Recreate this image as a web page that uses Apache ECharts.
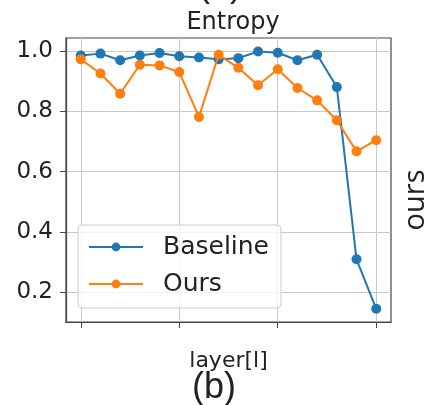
<!DOCTYPE html>
<html>
<head>
<meta charset="utf-8">
<script src="https://cdn.jsdelivr.net/npm/echarts@6/dist/echarts.min.js"></script>
<style>html,body{margin:0;padding:0;background:#fff;}#c{width:428px;height:405px;}</style>
</head>
<body>
<div id="c"></div>
<script>
var layers = [0,1,2,3,4,5,6,7,8,9,10,11,12,13,14,15];
var baseline = [0.985,0.991,0.969,0.985,0.993,0.982,0.978,0.972,0.976,0.998,0.994,0.969,0.987,0.880,0.309,0.145];
var ours = [0.972,0.925,0.858,0.954,0.952,0.930,0.781,0.987,0.944,0.886,0.939,0.877,0.836,0.770,0.667,0.704];
var xTicks = [0,5,10,15];
var yTicks = [0.2,0.4,0.6,0.8,1.0];

var chart = echarts.init(document.getElementById('c'), null, {renderer:'canvas'});
var font = 'DejaVu Sans';
function pairs(arr){ return layers.map(function(l,i){ return [l, arr[i]]; }); }
chart.setOption({
  animation:false,
  backgroundColor:'#fff',
  title:{text:'Entropy', left:228, textAlign:'center', top:6,
    textStyle:{fontFamily:font, fontSize:24, fontWeight:'normal', color:'#222'}},
  grid:{left:66, right:37, top:38, bottom:83, show:true, borderColor:'#444', borderWidth:1.2, backgroundColor:'transparent'},
  legend:{orient:'vertical', left:78, top:225, padding:[8,12,10,10], itemGap:9,
    itemWidth:54, itemHeight:11,
    backgroundColor:'rgba(255,255,255,0.8)', borderColor:'#ccc', borderWidth:1, borderRadius:4,
    textStyle:{fontFamily:font, fontSize:25, color:'#222', lineHeight:28, padding:[0,0,0,15]},
    data:['Baseline','Ours']},
  xAxis:{type:'value', min:-0.75, max:15.75,
    name:'layer[l]', nameLocation:'middle', nameGap:28,
    nameTextStyle:{fontFamily:font, fontSize:22, color:'#222'},
    axisLine:{show:true, onZero:false, lineStyle:{color:'#444', width:1.2}},
    axisTick:{show:true, length:6, inside:false, lineStyle:{color:'#444'}, customValues:xTicks},
    axisLabel:{show:false, customValues:xTicks},
    splitLine:{show:true, lineStyle:{color:'#c8c8c8', width:1}}},
  yAxis:{type:'value', min:0.1012, max:1.0428,
    axisLine:{show:true, onZero:false, lineStyle:{color:'#444', width:1.2}},
    axisTick:{show:true, length:6, inside:false, lineStyle:{color:'#444'}, customValues:yTicks},
    axisLabel:{show:true, margin:13, customValues:yTicks, fontFamily:font, fontSize:23, color:'#222',
      formatter:function(v){ return v.toFixed(1); }},
    splitLine:{show:true, lineStyle:{color:'#c8c8c8', width:1}}},
  series:[
    {name:'Baseline', type:'line', data:pairs(baseline), symbol:'circle', symbolSize:10,
      lineStyle:{color:'#1f77b4', width:2}, itemStyle:{color:'#1f77b4'}, z:2},
    {name:'Ours', type:'line', data:pairs(ours), symbol:'circle', symbolSize:10,
      lineStyle:{color:'#ff7f0e', width:2}, itemStyle:{color:'#ff7f0e'}, z:3}
  ],
  graphic:[
    {type:'text', x:220, y:-14, style:{text:'(a)', fontFamily:'Liberation Sans', fontSize:36, fill:'#222', align:'center', verticalAlign:'middle'}},
    {type:'text', x:214, y:388, style:{text:'(b)', fontFamily:'Liberation Sans', fontSize:36, fill:'#222', align:'center', verticalAlign:'middle'}},
    {type:'text', x:416, y:200, rotation:Math.PI/2, style:{text:'ours', fontFamily:'Open Sans', fontSize:29, fill:'#222', align:'center', verticalAlign:'middle'}}
  ]
});
</script>
</body>
</html>
